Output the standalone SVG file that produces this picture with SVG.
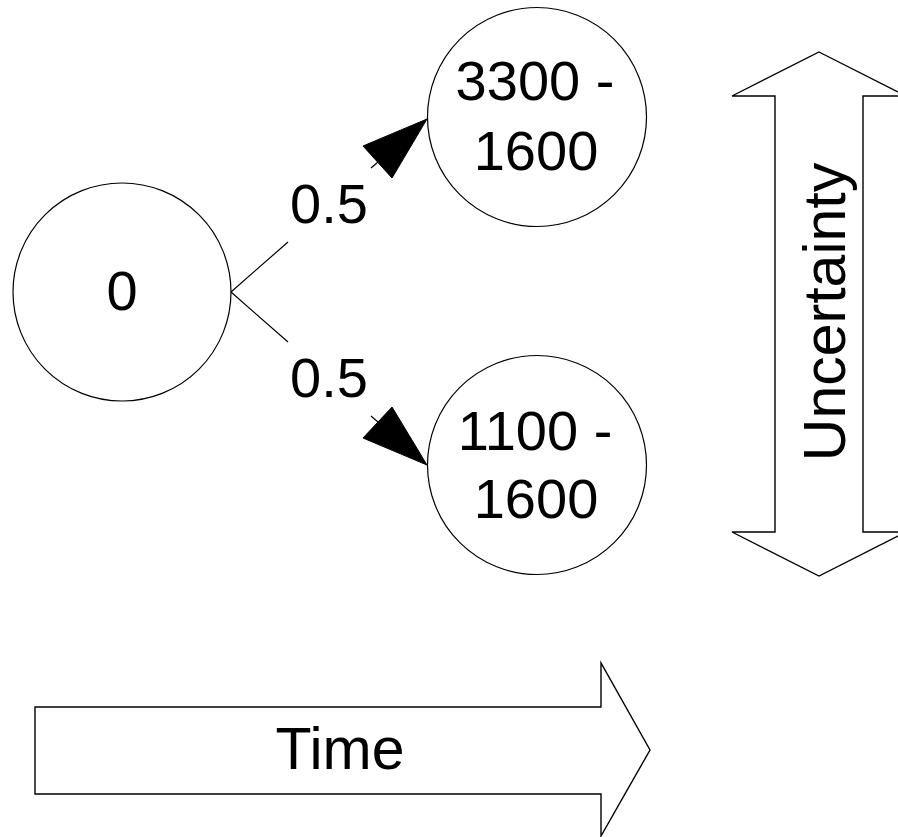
<svg xmlns="http://www.w3.org/2000/svg" width="898" height="837" viewBox="0 0 898 837">
  <style>
    .node { fill: #fff; stroke: #000; stroke-width: 1.2; }
    .big-arrow { fill: #fff; stroke: #000; stroke-width: 1.4; stroke-linejoin: miter; }
    .edge { fill: none; stroke: #000; stroke-width: 1.2; }
    .head { fill: #000; stroke: #000; stroke-width: 1; }
    text { font-family: "Liberation Sans", Arial, sans-serif; font-size: 56px; fill: #000; text-anchor: middle; }
    .axis-label { font-size: 59px; }
  </style>
  <rect width="898" height="837" fill="#fff"/>

  <!-- root node -->
  <g id="node-root">
    <circle class="node" cx="122" cy="292" r="109"/>
    <text x="122" y="310">0</text>
  </g>

  <!-- upper outcome -->
  <g id="node-up">
    <circle class="node" cx="537" cy="117" r="109.5"/>
    <text x="535" y="100">3300 -</text>
    <text x="536" y="170">1600</text>
  </g>

  <!-- lower outcome -->
  <g id="node-down">
    <circle class="node" cx="537" cy="465" r="109.5"/>
    <text x="535" y="450">1100 -</text>
    <text x="536" y="518">1600</text>
  </g>

  <!-- branches with probabilities -->
  <g id="connectors">
    <path class="edge" d="M231,292 L288,242 M371,168 L378,162"/>
    <polygon class="head" points="427,119 363,146 392,178"/>
    <text x="329" y="223">0.5</text>
    <path class="edge" d="M231,292 L288,342 M371,416 L378,422"/>
    <polygon class="head" points="427,465 363,438 392,407"/>
    <text x="329" y="397">0.5</text>
  </g>

  <!-- uncertainty double arrow -->
  <g id="uncertainty">
    <polygon class="big-arrow" points="819,52 906,96 863,96 863,532 906,532 819,576 732,532 775,532 775,96 732,96"/>
    <text class="axis-label" transform="translate(845,312) rotate(-90)">Uncertainty</text>
  </g>

  <!-- time arrow -->
  <g id="time">
    <polygon class="big-arrow" points="35,707 601,707 601,663 650,750 601,836 601,794 35,794"/>
    <text class="axis-label" x="340" y="769">Time</text>
  </g>
</svg>
